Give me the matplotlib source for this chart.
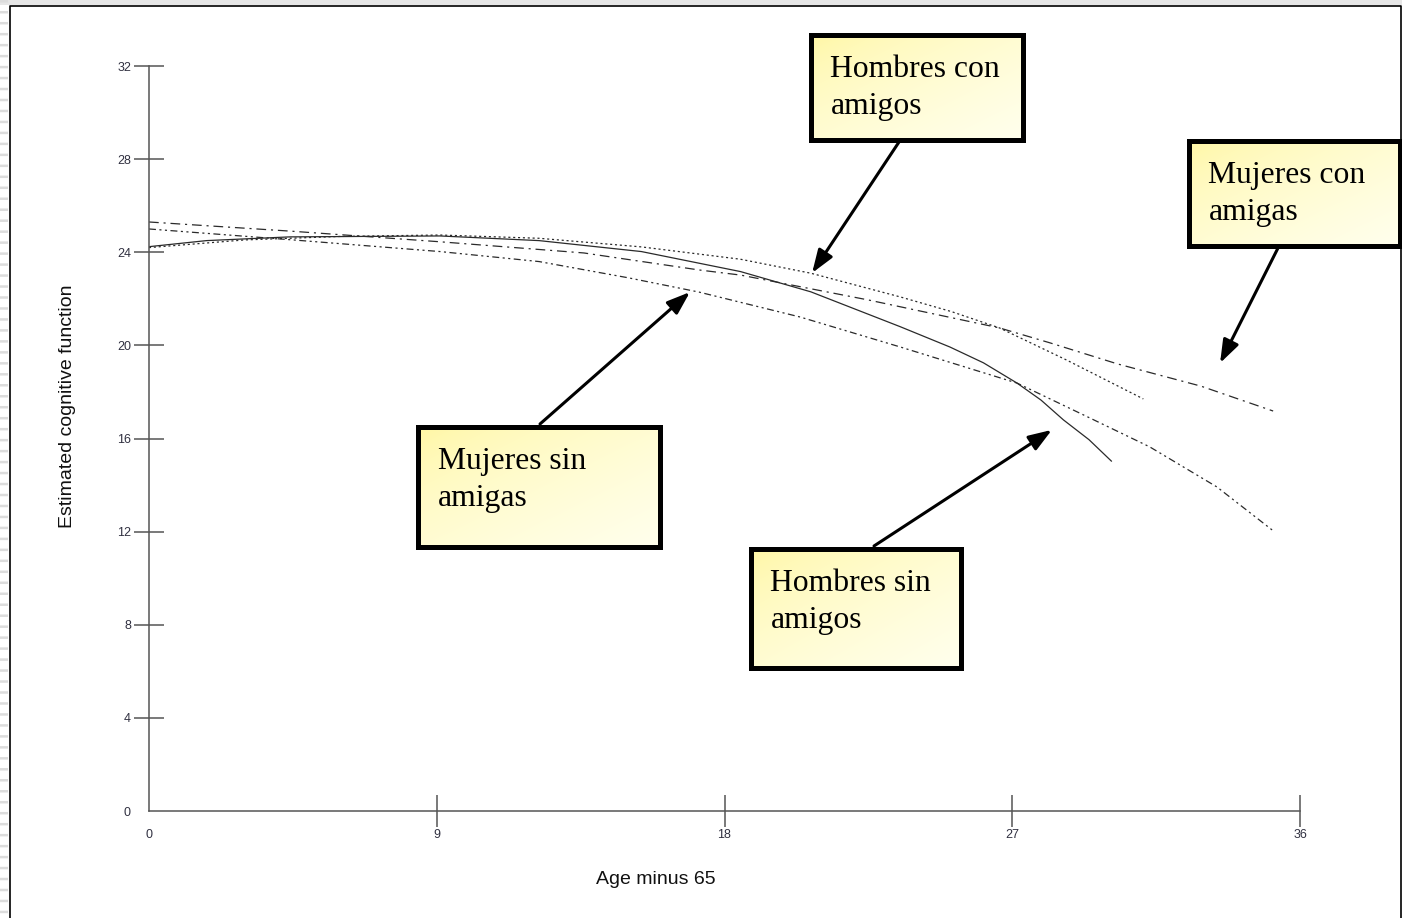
import numpy as np
import matplotlib
matplotlib.use('Agg')
import matplotlib.pyplot as plt
from matplotlib.lines import Line2D
from matplotlib.patches import Rectangle

plt.rcParams['font.family'] = ['Liberation Sans', 'DejaVu Sans']
plt.rcParams['lines.scale_dashes'] = False

W, H = 1402, 918

# estimated cognitive function by age minus 65
age_hom_sin = [0, 1.8, 4.4, 9.1, 12.2, 15.4, 18.5, 20.7, 23.5, 25.05, 26.1, 27.15, 27.9, 28.6, 29.4, 30.1]
cog_hom_sin = [24.24, 24.5, 24.66, 24.7, 24.5, 24.03, 23.17, 22.3, 20.8, 19.93, 19.25, 18.38, 17.65, 16.8, 15.95, 15.03]

age_hom_con = [0, 3, 6, 9.1, 12.2, 15.4, 18.5, 20.7, 23.5, 25.1, 26.6, 28.7, 31.1]
cog_hom_con = [24.2, 24.53, 24.68, 24.74, 24.6, 24.23, 23.7, 23.1, 22.08, 21.45, 20.75, 19.37, 17.7]

age_muj_con = [0, 4.5, 9.1, 13.6, 17.2, 18.5, 22.5, 26.6, 28.2, 30.3, 32.9, 35.16]
cog_muj_con = [25.3, 24.9, 24.45, 23.97, 23.24, 23.02, 21.95, 20.75, 20.1, 19.2, 18.25, 17.18]

age_muj_sin = [0, 4.5, 9.1, 12.2, 15.0, 17.2, 20.36, 23.5, 27.15, 29.43, 31.3, 33.4, 35.13]
cog_muj_sin = [25.0, 24.53, 24.03, 23.6, 22.9, 22.29, 21.22, 19.93, 18.38, 16.88, 15.64, 13.92, 12.07]

x_ticks = [0, 9, 18, 27, 36]
y_ticks = [0, 4, 8, 12, 16, 20, 24, 28, 32]

box_labels = ['Hombres con\namigos', 'Mujeres con\namigas',
              'Mujeres sin\namigas', 'Hombres sin\namigos']
# where each arrow points, in data units
arrow_age = [20.74, 33.5, 16.92, 28.24]
arrow_cog = [23.11, 19.24, 22.29, 16.37]

# callout boxes in pixels (left, top, right, bottom) and arrow tails
boxes = [(808, 32, 1025, 142), (1186, 138, 1402, 248),
         (415, 424, 662, 549), (748, 546, 964, 670)]
tails = [(899, 142), (1278, 248), (540, 424), (874, 546)]


def fx(x):
    return x / W


def fy(y):
    return 1 - y / H


fig = plt.figure(figsize=(W / 100, H / 100), dpi=100)

# page edge
fig.add_artist(Rectangle((0, fy(4.5)), 1, 4.5 / H, transform=fig.transFigure,
                         color='#e6e6e6', lw=0))
fig.add_artist(Line2D([fx(4), fx(4)], [1, 0], transform=fig.transFigure,
                      color='#dcdcdc', lw=5.8, dashes=(1.8, 6.1)))
fig.add_artist(Line2D([fx(9.5), fx(9.5), fx(1400.5), fx(1400.5)],
                      [0, fy(5.5), fy(5.5), 0], transform=fig.transFigure,
                      color='black', lw=1.2))

ax = fig.add_axes([fx(149), fy(811), (1300 - 149) / W, (811 - 66) / H])
ax.patch.set_alpha(0)
lc = '#2a2a2a'
ax.plot(age_hom_sin, cog_hom_sin, color=lc, lw=0.9)
ax.plot(age_hom_con, cog_hom_con, color=lc, lw=0.9, dashes=(1.5, 2))
ax.plot(age_muj_con, cog_muj_con, color=lc, lw=0.9, dashes=(7, 3.5, 1.5, 3.5))
ax.plot(age_muj_sin, cog_muj_sin, color=lc, lw=0.9,
        dashes=(5, 2.5, 1.5, 2.5, 1.5, 2.5))

ax.set_xlim(0, 36)
ax.set_ylim(0, 32)
for s in ['top', 'right']:
    ax.spines[s].set_visible(False)
for s in ['left', 'bottom']:
    ax.spines[s].set_color('#555555')
    ax.spines[s].set_linewidth(1.1)
ax.set_xticks(x_ticks)
ax.set_yticks(y_ticks)
ax.tick_params(axis='x', direction='inout', length=23, width=1.1, color='#555555',
               pad=1.5, labelsize=9, labelcolor='#303040')
ax.tick_params(axis='y', direction='inout', length=21.6, width=1.1, color='#555555',
               pad=2.2, labelsize=9, labelcolor='#303040')
ax.xaxis.get_major_ticks()[0].tick1line.set_visible(False)
ax.yaxis.get_major_ticks()[0].tick1line.set_visible(False)

fig.text(fx(67), fy(406), 'Estimated cognitive function', rotation=90,
         ha='center', va='center', fontsize=14, color='#111111')
fig.text(fx(656), fy(880), 'Age minus 65', ha='center', va='center',
         fontsize=14, color='#111111')

# arrows from the callouts to the curves
for (tx, ty), a, c in zip(tails, arrow_age, arrow_cog):
    ax.annotate('', xy=(a, c), xytext=(tx, H - ty), textcoords='figure pixels',
                annotation_clip=False,
                arrowprops=dict(arrowstyle='-|>,head_length=0.7,head_width=0.25',
                                mutation_scale=20, lw=2.2, color='black',
                                shrinkA=0, shrinkB=0))

# yellow gradient callout boxes
c0 = np.array([1.0, 0.965, 0.62])
c1 = np.array([1.0, 1.0, 0.93])
u, v = np.meshgrid(np.linspace(0, 1, 200), np.linspace(0, 1, 120))
g = ((u + v) / 2) ** 0.6
grad = c0 + g[..., None] * (c1 - c0)

for (l, t, r, b), lab in zip(boxes, box_labels):
    bax = fig.add_axes([fx(l + 2.5), fy(b - 2.5), (r - l - 5) / W, (b - t - 5) / H])
    bax.imshow(grad, extent=(0, 1, 0, 1), aspect='auto', interpolation='bilinear')
    bax.set_xticks([])
    bax.set_yticks([])
    for s in bax.spines.values():
        s.set_linewidth(3.6)
        s.set_color('black')
    # baseline of the second line
    fig.text(fx(l + 22.5), fy(t + 45.5 + 36.3), lab, fontsize=22.8,
             family='Liberation Serif', ha='left', va='baseline',
             linespacing=1.36, color='black')

fig.savefig('out.png', dpi=100)
